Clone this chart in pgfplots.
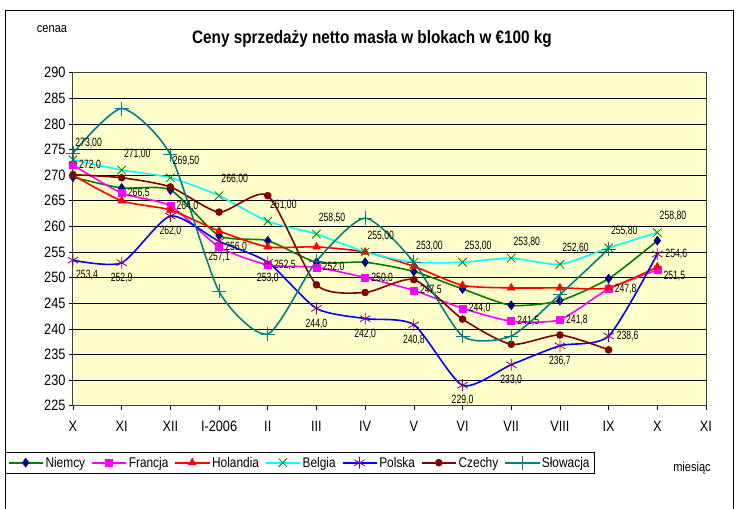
\documentclass[border=0pt]{standalone}
\usepackage{fontspec}
\setmainfont{Liberation Sans}
\newfontfamily\narrow{Liberation Sans}[FakeStretch=0.85]
\newfontfamily\vnarrow{Liberation Sans}[FakeStretch=0.72]
\usepackage{pgfplots}
\pgfplotsset{compat=1.18}

\definecolor{bgyellow}{HTML}{FFFFCC}
\definecolor{niemline}{HTML}{008000}
\definecolor{niemmark}{HTML}{000080}
\definecolor{franc}{HTML}{FF00FF}
\definecolor{holan}{HTML}{FF0000}
\definecolor{belgline}{HTML}{00FFFF}
\definecolor{belgmark}{HTML}{008000}
\definecolor{polline}{HTML}{0000FF}
\definecolor{polmark}{HTML}{800080}
\definecolor{czech}{HTML}{800000}
\definecolor{slow}{HTML}{008080}

\begin{document}
\begin{tikzpicture}
\useasboundingbox (0pt,0pt) rectangle (740pt,-509pt);
\draw[line width=1pt] (5pt,-509pt) -- (5pt,-10pt) -- (733pt,-10pt) -- (733pt,-509pt);
\node at (52pt,-29pt) {\narrow\fontsize{13}{15}\selectfont cenaa};
\node at (372pt,-39pt) {\narrow\bfseries\fontsize{18}{20}\selectfont Ceny sprzedaży netto masła w blokach w €100 kg};
\node at (692pt,-468pt) {\narrow\fontsize{13}{15}\selectfont miesiąc};

\begin{axis}[
    at={(73pt,-405.7pt)}, anchor=south west,
    scale only axis,
    width=633pt, height=333pt,
    xmin=0, xmax=13, ymin=225, ymax=290,
    xtick={0,...,13},
    xticklabels={X,XI,XII,I-2006,II,III,IV,V,VI,VII,VIII,IX,X,XI},
    ytick={225,230,...,290},
    ymajorgrids,
    major grid style={black, line width=0.6pt},
    axis background/.style={fill=bgyellow},
    axis line style={draw=black!75, line width=1pt},
    tick align=outside, major tick length=4pt,
    tick style={black, line width=0.6pt},
    xtick pos=bottom, ytick pos=left,
    ticklabel style={font=\narrow\fontsize{15}{17}\selectfont},
    xticklabel style={yshift=-8pt},
    /pgf/number format/assume math mode=true,
    legend style={at={(-0.1074,-0.139)}, anchor=north west,
        draw=black, line width=0.8pt, fill=white,
        font=\narrow\fontsize{14}{16}\selectfont,
        inner sep=2.5pt,
        /tikz/every even column/.append style={column sep=4pt}},
    legend columns=7,
    legend image code/.code={\draw[mark repeat=2,mark phase=2] plot coordinates {(0pt,0pt) (17pt,0pt) (34pt,0pt)};},
    every axis plot/.append style={line width=1.6pt, smooth, tension=0.4},
]
% Niemcy
\addplot[color=niemline, mark=diamond*, mark size=4.5pt, mark options={solid, fill=niemmark, draw=niemmark, line width=0.5pt}]
coordinates {(0,269.6)(1,267.5)(2,267.1)(3,258.2)(4,257.2)(5,253.0)(6,253.0)(7,251.2)(8,247.8)(9,244.6)(10,245.5)(11,249.8)(12,257.2)};
% Francja
\addplot[color=franc, mark=square*, mark size=3.5pt, mark options={solid, fill=franc, line width=0.5pt},
    nodes near coords={\pgfmathprintnumber[fixed,fixed zerofill,precision=1,use comma]{\pgfplotspointmeta}},
    nodes near coords style={text=black, font=\vnarrow\fontsize{12}{14}\selectfont, anchor=west, xshift=5pt, inner sep=1pt},
    coordinate style/.condition={x==12}{yshift=-6pt}]
coordinates {(0,272.0)(1,266.5)(2,264.0)(3,256.0)(4,252.5)(5,252.0)(6,250.0)(7,247.5)(8,244.0)(9,241.5)(10,241.8)(11,247.8)(12,251.5)};
% Holandia
\addplot[color=holan, mark=triangle*, mark size=4.5pt, mark options={solid, fill=holan, line width=0.5pt}]
coordinates {(0,270.0)(1,265.0)(2,263.2)(3,259.1)(4,256.0)(5,256.0)(6,255.0)(7,252.2)(8,248.5)(9,248.0)(10,248.0)(11,248.0)(12,252.1)};
% Belgia
\addplot[color=belgline, mark=x, mark size=6pt, mark options={solid, draw=belgmark, line width=0.8pt},
    nodes near coords={\pgfmathprintnumber[fixed,fixed zerofill,precision=2,use comma]{\pgfplotspointmeta}},
    nodes near coords style={text=black, font=\vnarrow\fontsize{12}{14}\selectfont, anchor=south west, xshift=1pt, yshift=10pt, inner sep=1pt}]
coordinates {(0,273.0)(1,271.0)(2,269.5)(3,266.0)(4,261.0)(5,258.5)(6,255.0)(7,253.0)(8,253.0)(9,253.8)(10,252.6)(11,255.8)(12,258.8)};
% Polska
\addplot[color=polline, mark=asterisk, mark size=6pt, mark options={solid, draw=polmark, line width=0.8pt},
    nodes near coords={\pgfmathprintnumber[fixed,fixed zerofill,precision=1,use comma]{\pgfplotspointmeta}},
    nodes near coords style={text=black, font=\vnarrow\fontsize{12}{14}\selectfont, anchor=north, yshift=-9pt, inner sep=1pt},
    coordinate style/.condition={x==0}{xshift=14pt},
    coordinate style/.condition={x>10.5}{xshift=19pt, yshift=15pt}]
coordinates {(0,253.4)(1,252.9)(2,262.0)(3,257.1)(4,253.0)(5,244.0)(6,242.0)(7,240.8)(8,229.0)(9,233.0)(10,236.7)(11,238.6)(12,254.6)};
% Czechy
\addplot[color=czech, mark=*, mark size=3.5pt, mark options={solid, fill=czech, line width=0.5pt}]
coordinates {(0,270.1)(1,269.5)(2,267.7)(3,262.8)(4,266.0)(5,248.6)(6,247.1)(7,249.6)(8,241.9)(9,237.0)(10,238.8)(11,235.9)};
% Slowacja
\addplot[color=slow, mark=+, mark size=7pt, mark options={solid, line width=0.8pt}]
coordinates {(0,274.3)(1,283.0)(2,274.0)(3,247.3)(4,239.0)(5,253.2)(6,261.6)(7,253.0)(8,238.6)(9,238.6)(10,246.7)(11,255.6)};
\legend{Niemcy, Francja, Holandia, Belgia, Polska, Czechy, Słowacja}
\end{axis}
\end{tikzpicture}
\end{document}
